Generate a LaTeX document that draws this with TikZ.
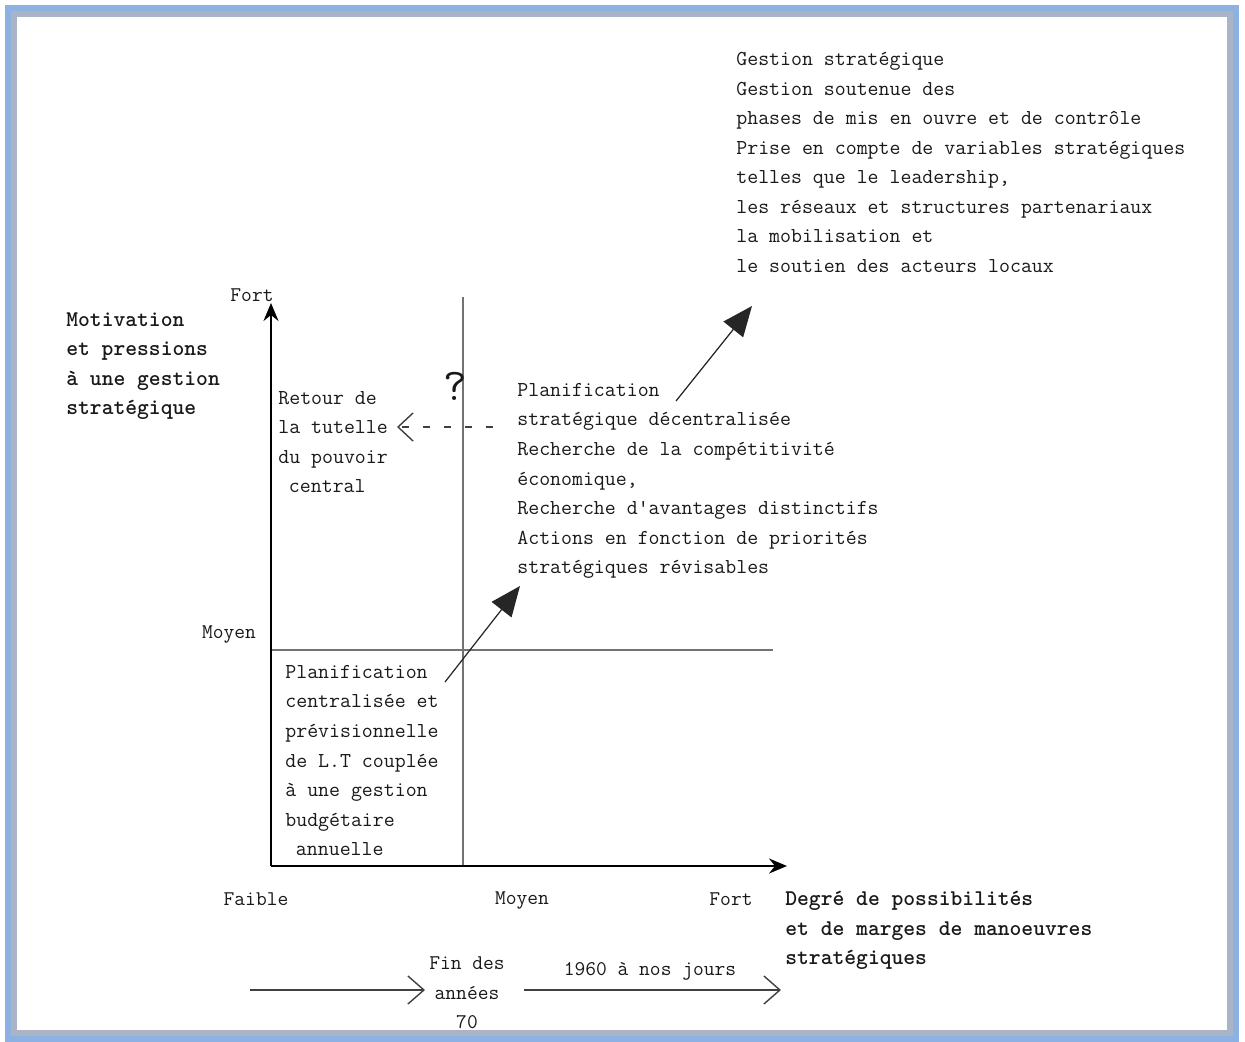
\documentclass[tikz,border=0pt]{standalone}
\usetikzlibrary{arrows.meta,positioning}
\definecolor{frameblue}{HTML}{8DB1E2}
\definecolor{framegray}{HTML}{A9B5C7}
\tikzset{
  txt/.style={anchor=north west, inner sep=0pt, align=left, text=black!90,
    font=\fontsize{12.1}{16.8}\selectfont\ttfamily},
  bold/.style={txt, font=\fontsize{12.8}{16.8}\selectfont\ttfamily\bfseries},
  lbl/.style={inner sep=0pt, text=black!90, font=\fontsize{11.9}{16.8}\selectfont\ttfamily},
  axis/.style={line width=1.3pt, -{Stealth[length=0.36cm, width=0.3cm, inset=0.12cm]}},
  grid/.style={black!55, line width=0.7pt},
  bigarrow/.style={black!85, line width=0.7pt, -{Triangle[length=0.6cm, width=0.5cm]}},
  openarrow/.style={black!75, line width=0.8pt, -{Straight Barb[length=0.32cm, width=0.56cm]}},
}
\begin{document}
\begin{tikzpicture}[x=0.02cm, y=-0.02cm]
\useasboundingbox (0,0) rectangle (1245,1042);
% Frame
\draw[frameblue, line width=6*0.02cm] (8,8) rectangle (1236,1039);
\draw[framegray, line width=6*0.02cm] (14,14) rectangle (1230,1033);

% Axes and quadrant lines
\coordinate (O) at (271,866);
\coordinate (ytop) at (271,303);
\coordinate (xend) at (787,866);
\draw[grid] (463,297) -- (463,866);
\draw[grid] (271,650) -- (773,650);
\draw[axis] (O) -- (ytop);
\draw[axis] (O) -- (xend);

% Axis labels
\node[lbl] (fortY) at (252,295) {Fort};
\node[lbl] (moyY) at (229,634) {Moyen};
\node[lbl] (faible) at (256,899) {Faible};
\node[lbl] (moyX) at (522,900) {Moyen};
\node[lbl] (fortX) at (731,899) {Fort};
\node[bold] (motiv) at (66,312) {Motivation\\et pressions\\à une gestion\\stratégique};
\node[bold] (degre) at (785,891) {Degré de possibilités\\et de marges de manoeuvres\\stratégiques};

% Quadrant texts
\node[txt] (gest) at (736,52) {Gestion stratégique\\Gestion soutenue des\\phases de mis en ouvre et de contrôle\\Prise en compte de variables stratégiques\\telles que le leadership,\\les réseaux et structures partenariaux\\la mobilisation et\\le soutien des acteurs locaux};
\node[txt] (planS) at (517,383) {Planification\\stratégique décentralisée\\Recherche de la compétitivité\\économique,\\Recherche d'avantages distinctifs\\Actions en fonction de priorités\\stratégiques révisables};
\node[txt] (retour) at (278,391) {Retour de\\la tutelle\\du pouvoir\\\hspace*{0.5em}central};
\node[txt] (planC) at (285,665) {Planification\\centralisée et\\prévisionnelle\\de L.T couplée\\à une gestion\\budgétaire\\\hspace*{0.5em}annuelle};
\node[lbl, font=\fontsize{26}{26}\selectfont\ttfamily] (qmark) at (455,386) {?};

% Transitions
\coordinate (dA) at (493,427);
\coordinate (dB) at (397,427);
\draw[black!75, line width=0.8pt, dash pattern=on 0.14cm off 0.28cm,
  -{Straight Barb[length=0.3cm, width=0.56cm]}] (dA) -- (dB);
\coordinate (cA) at (445,682);
\coordinate (cB) at (520,586);
\draw[bigarrow] (cA) -- (cB);
\coordinate (sA) at (676,401);
\coordinate (sB) at (752,306);
\draw[bigarrow] (sA) -- (sB);

% Time line
\node[lbl, align=center] (fin) at (467,993) {Fin des\\années\\70};
\node[lbl] (jours) at (650,971) {1960 à nos jours};
\coordinate (t0) at (250,990);
\coordinate (t1) at (425,990);
\coordinate (t2) at (524,990);
\coordinate (t3) at (781,990);
\draw[openarrow] (t0) -- (t1);
\draw[openarrow] (t2) -- (t3);
\end{tikzpicture}
\end{document}
